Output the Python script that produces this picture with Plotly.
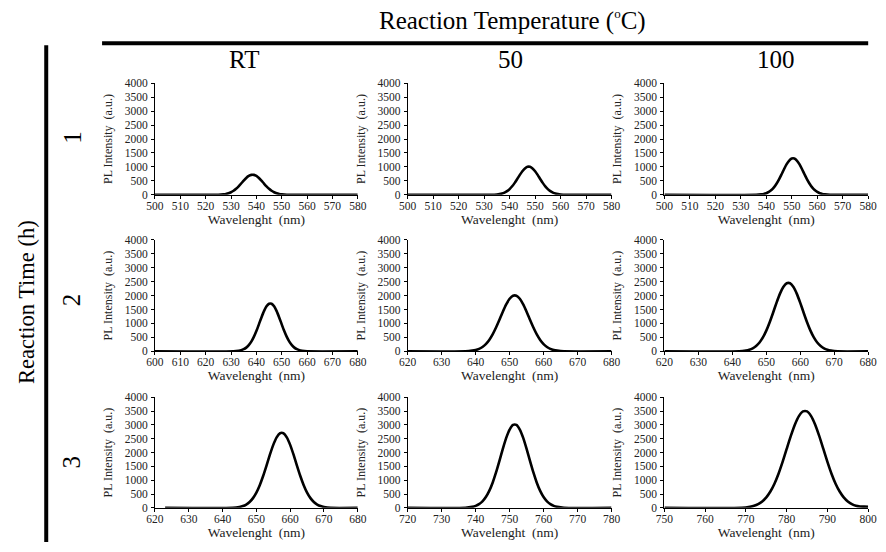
import plotly.graph_objects as go

# ---------------- data ----------------
row_labels = ["1", "2", "3"]
col_labels = ["RT", "50", "100"]

x_ranges = [[500, 580], [500, 580], [500, 580],
            [600, 680], [620, 680], [620, 680],
            [620, 680], [720, 780], [750, 800]]

# panel (1, RT)
wl_1_rt = [500, 524, 526, 527, 528, 529, 530, 531, 532, 533, 534, 535, 536, 537, 538, 539,
           540, 541, 542, 543, 544, 545, 546, 547, 548, 549, 550, 551, 553, 580]
pl_1_rt = [0, 0, 9, 17, 32, 56, 93, 146, 217, 305, 405, 509, 603, 675, 715, 715,
           675, 603, 509, 405, 305, 217, 146, 93, 56, 32, 17, 9, 0, 0]
# panel (1, 50)
wl_1_50 = [500, 533, 535, 536, 537, 538, 539, 540, 541, 542, 543, 544, 545, 546, 547, 548,
           549, 550, 551, 552, 553, 554, 555, 556, 557, 558, 559, 560, 562, 580]
pl_1_50 = [0, 0, 12, 24, 44, 78, 130, 205, 305, 428, 569, 714, 846, 947, 1003, 1003,
           947, 846, 714, 569, 428, 305, 205, 130, 78, 44, 24, 12, 0, 0]
# panel (1, 100)
wl_1_100 = [500, 536, 538, 539, 540, 541, 542, 543, 544, 545, 546, 547, 548, 549, 550, 551,
            552, 553, 554, 555, 556, 557, 558, 559, 560, 561, 562, 563, 565, 580]
pl_1_100 = [0, 0, 16, 31, 58, 102, 169, 266, 396, 555, 738, 926, 1098, 1229, 1301, 1301,
            1229, 1098, 926, 738, 555, 396, 266, 169, 102, 58, 31, 16, 0, 0]
# panel (2, RT)
wl_2_rt = [600, 631, 633, 634, 635, 636, 637, 638, 639, 640, 641, 642, 643, 644, 645, 646,
           647, 648, 649, 650, 651, 652, 653, 654, 655, 656, 657, 658, 660, 680]
pl_2_rt = [0, 0, 20, 40, 76, 133, 222, 349, 519, 729, 968, 1216, 1441, 1613, 1708, 1708,
           1613, 1441, 1216, 968, 729, 519, 349, 222, 133, 76, 40, 20, 0, 0]
# panel (2, 50)
wl_2_50 = [620, 637, 639, 640, 641, 642, 643, 644, 645, 646, 647, 648, 649, 650, 651, 652,
           653, 654, 655, 656, 657, 658, 659, 660, 661, 662, 663, 664, 666, 680]
pl_2_50 = [0, 0, 24, 47, 88, 156, 259, 408, 607, 852, 1131, 1421, 1684, 1885, 1996, 1996,
           1885, 1684, 1421, 1131, 852, 607, 408, 259, 156, 88, 47, 24, 0, 0]
# panel (2, 100)
wl_2_100 = [620, 642, 644, 645, 646, 647, 648, 649, 650, 651, 652, 653, 654, 655, 656, 657,
            658, 659, 660, 661, 662, 663, 664, 665, 666, 667, 668, 669, 671, 680]
pl_2_100 = [0, 0, 29, 58, 108, 191, 317, 499, 743, 1043, 1385, 1739, 2061, 2307, 2443, 2443,
            2307, 2061, 1739, 1385, 1043, 743, 499, 317, 191, 108, 58, 29, 0, 0]
# panel (3, RT)
wl_3_rt = [623, 643, 645, 646, 647, 648, 649, 650, 651, 652, 653, 654, 655, 656, 657, 658,
           659, 660, 661, 662, 663, 664, 665, 666, 667, 668, 669, 670, 672, 680]
pl_3_rt = [0, 0, 32, 64, 120, 211, 351, 552, 821, 1153, 1531, 1923, 2279, 2551, 2701, 2701,
           2551, 2279, 1923, 1531, 1153, 821, 552, 351, 211, 120, 64, 32, 0, 0]
# panel (3, 50)
wl_3_50 = [720, 737, 739, 740, 741, 742, 743, 744, 745, 746, 747, 748, 749, 750, 751, 752,
           753, 754, 755, 756, 757, 758, 759, 760, 761, 762, 763, 764, 766, 780]
pl_3_50 = [0, 0, 36, 71, 133, 234, 390, 613, 911, 1280, 1700, 2135, 2531, 2833, 2999, 2999,
           2833, 2531, 2135, 1700, 1280, 911, 613, 390, 234, 133, 71, 36, 0, 0]
# panel (3, 100)
wl_3_100 = [750, 769, 771, 772, 773, 774, 775, 776, 777, 778, 779, 780, 781, 782, 783, 784,
            785, 786, 787, 788, 789, 790, 791, 792, 793, 794, 795, 796, 797, 798, 799, 800]
pl_3_100 = [0, 0, 39, 74, 134, 231, 379, 590, 874, 1236, 1664, 2131, 2594, 3008, 3320, 3489,
            3489, 3320, 3008, 2594, 2131, 1664, 1236, 874, 590, 379, 231, 134, 74, 50, 45, 40]

series = [(wl_1_rt, pl_1_rt), (wl_1_50, pl_1_50), (wl_1_100, pl_1_100),
          (wl_2_rt, pl_2_rt), (wl_2_50, pl_2_50), (wl_2_100, pl_2_100),
          (wl_3_rt, pl_3_rt), (wl_3_50, pl_3_50), (wl_3_100, pl_3_100)]

y_ticks = [0, 500, 1000, 1500, 2000, 2500, 3000, 3500, 4000]

# ---------------- layout geometry (pixels) ----------------
W, H = 886, 552
col_px = [(149, 356), (407, 615), (669, 877)]
row_px = [(79, 193), (239, 353), (400, 513)]
FONT = "Liberation Serif"

fig = go.Figure()
layout = dict(
    width=W, height=H, margin=dict(l=0, r=0, t=0, b=0),
    paper_bgcolor="white", plot_bgcolor="white", showlegend=False,
    font=dict(family=FONT, color="black"),
)

for i, (wl, pl) in enumerate(series):
    r, c = divmod(i, 3)
    n = "" if i == 0 else str(i + 1)
    fig.add_trace(go.Scatter(x=wl, y=pl, mode="lines",
                             line=dict(color="black", width=2.6, shape="spline", smoothing=0.6),
                             xaxis="x" + n, yaxis="y" + n, hoverinfo="skip"))
    x0, x1 = col_px[c]
    y0, y1 = row_px[r]
    xr = x_ranges[i]
    layout["xaxis" + n] = dict(
        domain=[x0 / W, x1 / W], anchor="y" + n, range=xr,
        tickmode="linear", tick0=xr[0], dtick=10,
        showgrid=False, zeroline=False, showline=True, linecolor="black", linewidth=1,
        ticks="outside", ticklen=3, tickcolor="black", ticklabelstandoff=-3,
        tickfont=dict(family=FONT, size=11.5, color="#222"),
        title=dict(text="Wavelenght  (nm)", font=dict(family=FONT, size=13.5, color="#222"), standoff=0),
    )
    layout["yaxis" + n] = dict(
        domain=[1 - y1 / H, 1 - y0 / H], anchor="x" + n, range=[0, 4000],
        tickvals=y_ticks, showgrid=False, zeroline=False,
        showline=True, linecolor="black", linewidth=1,
        ticks="outside", ticklen=3, tickcolor="black", ticklabelstandoff=1,
        tickfont=dict(family=FONT, size=11.5, color="#222"),
        title=dict(text="PL Intensity  (a.u.)", font=dict(family=FONT, size=12, color="#222"), standoff=9),
    )

fig.update_layout(**layout)

# ---------------- header / side labels ----------------
def label(text, xp, yp, size, angle=0):
    fig.add_annotation(text=text, x=xp / W, y=1 - yp / H, xref="paper", yref="paper",
                       xanchor="center", yanchor="middle", showarrow=False, textangle=angle,
                       font=dict(family=FONT, size=size, color="black"))

label("Reaction Temperature (<sup><span style='font-size:13px'>o</span></sup>C)", 514, 15, 25)
for lab, cx in zip(col_labels, [240, 512, 783]):
    label(lab, cx, 55, 25)
label("Reaction Time (h)", 18, 303, 22.5, -90)
for lab, cy in zip(row_labels, [134, 300, 466]):
    label(lab, 64, cy, 25, -90)

fig.add_shape(type="line", xref="paper", yref="paper", x0=95 / W, x1=877 / W,
              y0=1 - 38 / H, y1=1 - 38 / H, line=dict(color="black", width=4))
fig.add_shape(type="line", xref="paper", yref="paper", x0=38 / W, x1=38 / W,
              y0=1 - 40 / H, y1=1 - 548 / H, line=dict(color="black", width=4))

fig.write_html("out.html")
